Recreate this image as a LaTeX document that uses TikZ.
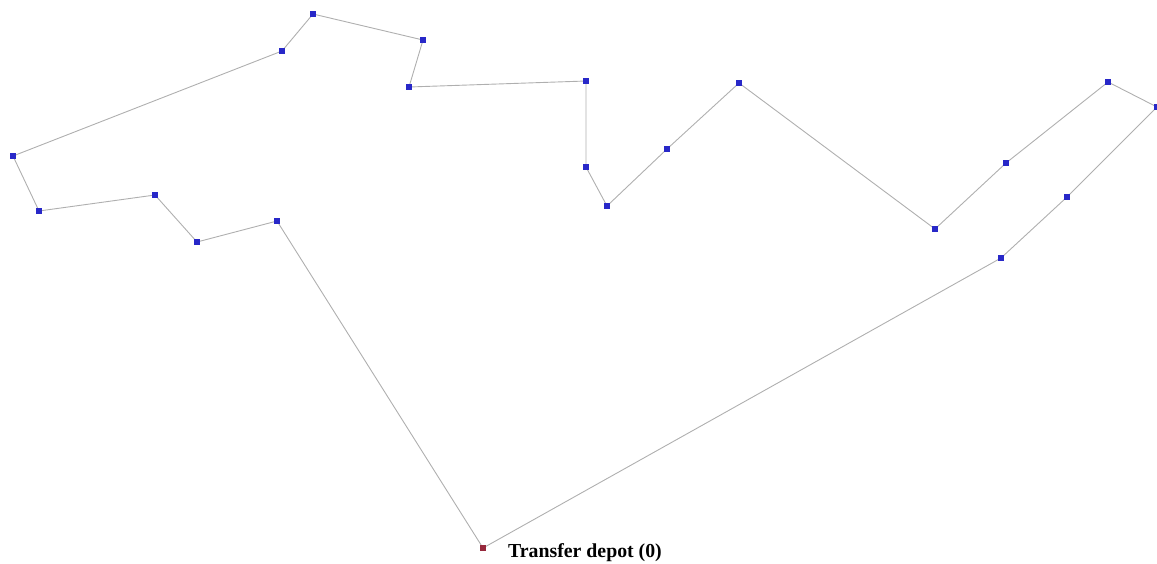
\documentclass[tikz,border=0pt]{standalone}
\usepackage{fontspec}
\setmainfont{Liberation Serif}
\definecolor{route}{RGB}{175,175,175}
\definecolor{cust}{RGB}{40,40,200}
\definecolor{depotc}{RGB}{150,40,60}
\begin{document}
\begin{tikzpicture}[x=1pt,y=-1pt,
  custnode/.style={fill=cust,draw=none,minimum size=5.5pt,inner sep=0pt,outer sep=0pt},
  depotnode/.style={fill=depotc,draw=none,minimum size=5.5pt,inner sep=0pt,outer sep=0pt},
  routeline/.style={draw=route,line width=0.9pt},
  lbl/.style={font=\fontsize{19.8}{23}\selectfont\bfseries,anchor=base west,inner sep=0pt}]
\useasboundingbox (0,0) rectangle (1157,563);
\node[depotnode] (d) at (483,548) {};
\node[lbl] (dl) at (508,557) {Transfer depot (0)};
\foreach \n/\x/\y in {a/277/221, b/197/242, c/155/195, e/39/211, f/13/156, g/282/51, h/313/14, i/423/40, j/409/87, k/586/81, l/586/167, m/607/206, n/667/149, o/739/83, p/935/229, q/1006/163, r/1108/82, s/1157/107, t/1067/197, u/1001/258}
  \node[custnode] (\n) at (\x,\y) {};
\draw[routeline] (d) -- (a) -- (b) -- (c) -- (e) -- (f) -- (g) -- (h) -- (i) -- (j) -- (k) -- (l) -- (m) -- (n) -- (o) -- (p) -- (q) -- (r) -- (s) -- (t) -- (u) -- (d);
\foreach \n in {a,b,c,e,f,g,h,i,j,k,l,m,n,o,p,q,r,s,t,u}
  \node[custnode] at (\n) {};
\node[depotnode] at (d) {};
\end{tikzpicture}
\end{document}
